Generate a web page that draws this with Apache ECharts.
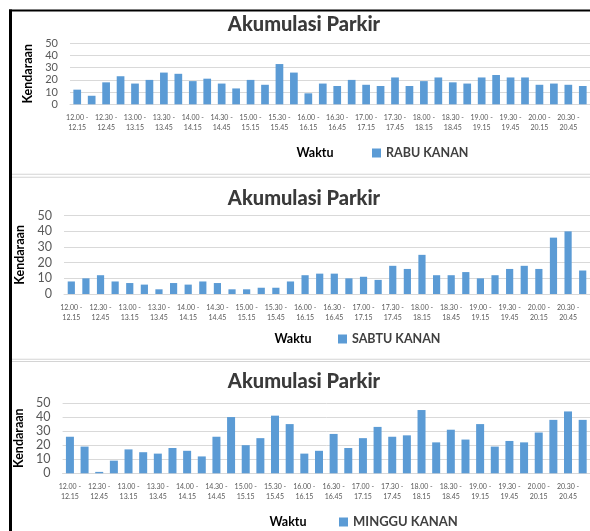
<!DOCTYPE html>
<html>
<head>
<meta charset="utf-8">
<script src="https://cdn.jsdelivr.net/npm/echarts@6/dist/echarts.min.js"></script>
<style>
html,body{margin:0;padding:0;background:#fff;}
#c{width:590px;height:531px;}
</style>
</head>
<body>
<div id="c"></div>
<script>
var categories = [
  '12.00 - 12.15','12.15 - 12.30','12.30 - 12.45','12.45 - 13.00',
  '13.00 - 13.15','13.15 - 13.30','13.30 - 13.45','13.45 - 14.00',
  '14.00 - 14.15','14.15 - 14.30','14.30 - 14.45','14.45 - 15.00',
  '15.00 - 15.15','15.15 - 15.30','15.30 - 15.45','15.45 - 16.00',
  '16.00 - 16.15','16.15 - 16.30','16.30 - 16.45','16.45 - 17.00',
  '17.00 - 17.15','17.15 - 17.30','17.30 - 17.45','17.45 - 18.00',
  '18.00 - 18.15','18.15 - 18.30','18.30 - 18.45','18.45 - 19.00',
  '19.00 - 19.15','19.15 - 19.30','19.30 - 19.45','19.45 - 20.00',
  '20.00 - 20.15','20.15 - 20.30','20.30 - 20.45','20.45 - 21.00'
];
var rabuKanan = [12,7,18,23,17,20,26,25,19,21,17,13,20,16,33,26,9,17,15,20,16,15,22,15,19,22,18,17,22,24,22,22,16,17,16,15];
var sabtuKanan = [8,10,12,8,7,6,3,7,6,8,7,3,3,4,4,8,12,13,13,10,11,9,18,16,25,12,12,14,10,12,16,18,16,36,40,15];
var mingguKanan = [26,19,1,9,17,15,14,18,16,12,26,40,20,25,41,35,14,16,28,18,25,33,26,27,45,22,31,24,35,19,23,22,29,38,44,38];
var seriesNames = ['RABU KANAN','SABTU KANAN','MINGGU KANAN'];
var chartTitle = 'Akumulasi Parkir';
var yName = 'Kendaraan';
var xName = 'Waktu';
var yTicks = {min:0, max:50, interval:10};

var FONT = 'Lato';
var panels = [
  {grid:{left:70,top:43.3,width:520,height:61}, data:rabuKanan, yFont:11, nameGap:35, barW:7.7,
   titleY:25, waktuX:315, waktuY:153, legendLeft:372, legendTop:146.5, legendFont:12.5},
  {grid:{left:64,top:215.7,width:529,height:78.3}, data:sabtuKanan, yFont:12.5, nameGap:35, barW:7.2,
   titleY:199, waktuX:293, waktuY:339, legendLeft:338, legendTop:332.5, legendFont:12.5},
  {grid:{left:62.6,top:403,width:533,height:70.3}, data:mingguKanan, yFont:12.5, nameGap:34, barW:8,
   titleY:382, waktuX:288, waktuY:522, legendLeft:339, legendTop:515.5, legendFont:13}
];

var grids=[], xAxes=[], yAxes=[], series=[], legends=[], graphics=[];
panels.forEach(function(p,i){
  grids.push(p.grid);
  xAxes.push({
    type:'category', gridIndex:i, data:categories,
    axisTick:{show:false},
    axisLine:{show:true, lineStyle:{color:'#d9d9d9', width:1}},
    axisLabel:{interval:1, fontSize:7, color:'#595959', fontFamily:FONT, margin:9, lineHeight:9.5,
      formatter:function(v){return v.replace(' - ',' -\n');}}
  });
  yAxes.push({
    type:'value', gridIndex:i, min:yTicks.min, max:yTicks.max, interval:yTicks.interval,
    name:yName, nameLocation:'middle', nameGap:p.nameGap,
    nameTextStyle:{fontFamily:FONT, fontWeight:'bold', fontSize:12.5, color:'#000'},
    axisLine:{show:false}, axisTick:{show:false},
    axisLabel:{fontSize:p.yFont, color:'#595959', fontFamily:FONT, margin:12},
    splitLine:{lineStyle:{color:'#d9d9d9', width:1}}
  });
  series.push({
    type:'bar', name:seriesNames[i], xAxisIndex:i, yAxisIndex:i, data:p.data,
    barWidth:p.barW, itemStyle:{color:'#5B9BD5'}, silent:true
  });
  legends.push({
    data:[seriesNames[i]], left:p.legendLeft, top:p.legendTop, padding:0,
    icon:'rect', itemWidth:9, itemHeight:9, itemGap:5,
    textStyle:{fontFamily:FONT, fontWeight:'bold', fontSize:p.legendFont, color:'#404040'},
    selectedMode:false
  });
  graphics.push({type:'text', x:304, y:p.titleY, style:{text:chartTitle, textAlign:'center', textVerticalAlign:'middle',
    font:'900 20px '+FONT, fill:'#3a3a3a'}});
  graphics.push({type:'text', x:p.waktuX, y:p.waktuY, style:{text:xName, textAlign:'center', textVerticalAlign:'middle',
    font:'bold 12.5px '+FONT, fill:'#000'}});
});
// frame lines
graphics.push({type:'rect', shape:{x:9, y:9.5, width:581, height:2}, style:{fill:'#000'}});
graphics.push({type:'rect', shape:{x:9, y:9.5, width:3, height:522}, style:{fill:'#000'}});
[174.3,177.3,359.3,361.5].forEach(function(y){
  graphics.push({type:'rect', shape:{x:12, y:y-0.5, width:578, height:1}, style:{fill:'#d4d4d4'}});
});

var chart = echarts.init(document.getElementById('c'), null, {renderer:'canvas'});
chart.setOption({
  animation:false,
  grid:grids, xAxis:xAxes, yAxis:yAxes, series:series, legend:legends, graphic:graphics
});
</script>
</body>
</html>
